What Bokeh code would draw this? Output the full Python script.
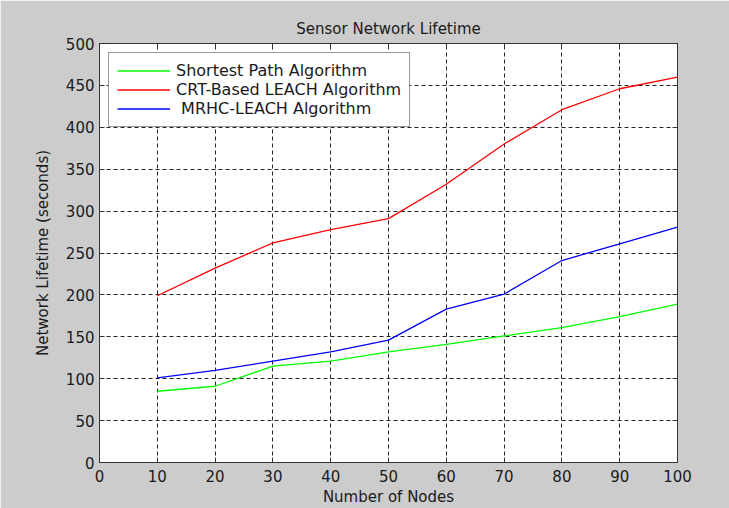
from bokeh.plotting import figure
from bokeh.models import Range1d, LinearAxis, SingleIntervalTicker
from bokeh.embed import file_html
from bokeh.resources import INLINE

nodes = [10, 20, 30, 40, 50, 60, 70, 80, 90, 100]
shortest_path = [85, 91, 115, 121, 132, 141, 151, 161, 174, 189]
crt_leach = [199, 232, 262, 278, 291, 332, 380, 421, 446, 460]
mrhc_leach = [101, 110, 121, 132, 146, 183, 201, 241, 261, 281]

labels = ["Shortest Path Algorithm", "CRT-Based LEACH Algorithm", " MRHC-LEACH Algorithm"]
colors = ["#00ff00", "#ff0000", "#0000ff"]

FONT = "DejaVu Sans"
TXT = "#1a1a1a"

p = figure(width=729, height=508, output_backend="svg", toolbar_location=None,
           x_range=Range1d(0, 100), y_range=Range1d(0, 500),
           min_border_left=99, min_border_right=52, min_border_top=43, min_border_bottom=45,
           background_fill_color="white", border_fill_color="#cccccc",
           title="Sensor Network Lifetime",
           x_axis_label="Number of Nodes", y_axis_label="Network Lifetime (seconds)")

p.title.align = "center"
p.title.text_font = FONT
p.title.text_font_size = "15px"
p.title.text_font_style = "normal"
p.title.text_color = TXT
p.title.standoff = 11

p.outline_line_color = "#333333"
p.outline_line_width = 1

xt = SingleIntervalTicker(interval=10, num_minor_ticks=0)
yt = SingleIntervalTicker(interval=50, num_minor_ticks=0)
p.xaxis.ticker = xt
p.yaxis.ticker = yt
p.xgrid.ticker = xt
p.ygrid.ticker = yt

for ax in [p.xaxis[0], p.yaxis[0]]:
    ax.major_tick_in = 5
    ax.major_tick_out = 0
    ax.minor_tick_line_color = None
    ax.axis_line_color = "#333333"
    ax.major_tick_line_color = "#333333"
    ax.major_label_text_font = FONT
    ax.major_label_text_font_size = "15px"
    ax.major_label_text_color = TXT
    ax.axis_label_text_font = FONT
    ax.axis_label_text_font_size = "15px"
    ax.axis_label_text_font_style = "normal"
    ax.axis_label_text_color = TXT

p.xaxis.major_label_standoff = 7
p.xaxis.axis_label_standoff = 3
p.yaxis.major_label_standoff = 5
p.yaxis.axis_label_standoff = 11

for loc, tk in [("above", SingleIntervalTicker(interval=10, num_minor_ticks=0)),
                ("right", SingleIntervalTicker(interval=50, num_minor_ticks=0))]:
    ax = LinearAxis(ticker=tk)
    ax.major_tick_in = 5
    ax.major_tick_out = 0
    ax.minor_tick_line_color = None
    ax.axis_line_color = "#333333"
    ax.major_tick_line_color = "#333333"
    ax.major_label_text_font_size = "0px"
    ax.major_label_text_color = None
    ax.major_label_standoff = 0
    p.add_layout(ax, loc)

for g in [p.xgrid[0], p.ygrid[0]]:
    g.grid_line_color = "#222222"
    g.grid_line_dash = "4 3"
    g.grid_line_width = 1
    g.grid_line_alpha = 1.0

p.line(nodes, shortest_path, line_color=colors[0], line_width=1.3, legend_label=labels[0])
p.line(nodes, crt_leach, line_color=colors[1], line_width=1.3, legend_label=labels[1])
p.line(nodes, mrhc_leach, line_color=colors[2], line_width=1.3, legend_label=labels[2])

lg = p.legend[0]
lg.location = "top_left"
lg.margin = 9
lg.padding = 8
lg.spacing = 0
lg.glyph_width = 53
lg.glyph_height = 17
lg.label_height = 17
lg.label_standoff = 6
lg.label_text_font = FONT
lg.label_text_font_size = "16px"
lg.label_text_color = TXT
lg.border_line_color = "#333333"
lg.border_line_width = 1
lg.background_fill_color = "white"
lg.background_fill_alpha = 1.0

open("out.html", "w").write(file_html(p, INLINE))
